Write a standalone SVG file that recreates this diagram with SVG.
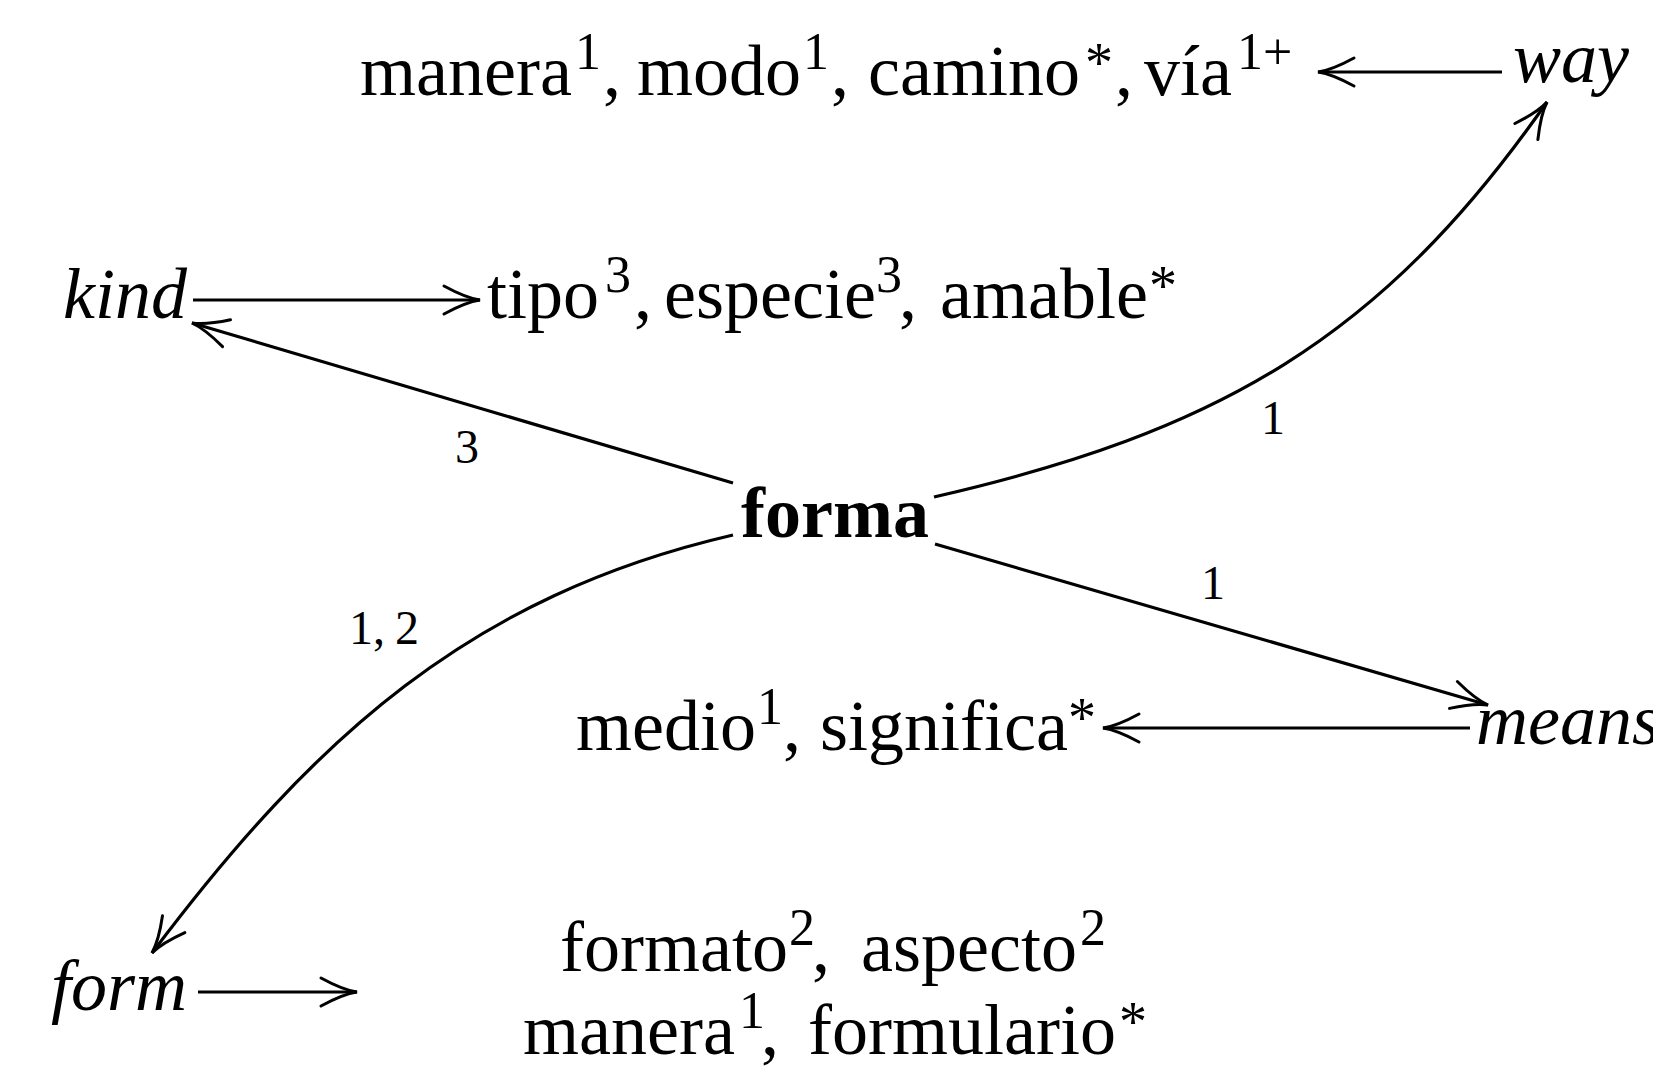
<svg xmlns="http://www.w3.org/2000/svg" width="1653" height="1068" viewBox="0 0 1653 1068">
  <defs>
    <style>
      .t { font-family: "Liberation Serif", "Times New Roman", serif; font-size: 72px; fill: #000; }
      .i { font-style: italic; }
      .b { font-weight: bold; }
      .s { font-size: 52px; }
      .a { font-size: 56px; }
      .lbl { font-family: "Liberation Serif", "Times New Roman", serif; font-size: 48px; fill: #000; text-anchor: middle; }
      .e { fill: none; stroke: #000; stroke-width: 3.2; marker-end: url(#to); }
    </style>
    <!-- open "to"-style arrow tip with curved barbs -->
    <marker id="to" markerUnits="userSpaceOnUse" viewBox="-40 -18 44 36" refX="0" refY="0" markerWidth="44" markerHeight="36" orient="auto" overflow="visible">
      <path d="M-36,-14 Q-14,-2 0,0 Q-14,2 -36,14" fill="none" stroke="#000" stroke-width="3" stroke-linecap="round"/>
    </marker>
  </defs>
  <rect width="1653" height="1068" fill="#fff"/>

  <!-- translations of "way" -->
  <g id="n-way-es">
    <text class="t">
      <tspan x="360" y="95">manera</tspan><tspan class="s" x="575" y="69">1</tspan><tspan x="603" y="95">,</tspan>
      <tspan x="637" y="95">modo</tspan><tspan class="s" x="803" y="69">1</tspan><tspan x="831" y="95">,</tspan>
      <tspan x="868" y="95">camino</tspan><tspan class="a" x="1085" y="82">*</tspan><tspan x="1115" y="95">,</tspan>
      <tspan x="1144" y="95">vía</tspan><tspan class="s" x="1237" y="69">1+</tspan>
    </text>
  </g>
  <g id="n-way"><text class="t i" x="1513" y="82">way</text></g>

  <!-- kind and its translations -->
  <g id="n-kind"><text class="t i" x="63" y="318">kind</text></g>
  <g id="n-kind-es">
    <text class="t">
      <tspan x="487" y="318">tipo</tspan><tspan class="s" x="605" y="292">3</tspan><tspan x="634" y="318">,</tspan>
      <tspan x="664" y="318">especie</tspan><tspan class="s" x="876" y="292">3</tspan><tspan x="899" y="318">,</tspan>
      <tspan x="940" y="318">amable</tspan><tspan class="a" x="1149" y="305">*</tspan>
    </text>
  </g>

  <!-- source word -->
  <g id="n-forma"><text class="t b" x="741" y="537">forma</text></g>

  <!-- means and its translations -->
  <g id="n-means-es">
    <text class="t">
      <tspan x="576" y="750">medio</tspan><tspan class="s" x="757" y="724">1</tspan><tspan x="783" y="750">,</tspan>
      <tspan x="820" y="750">significa</tspan><tspan class="a" x="1068" y="737">*</tspan>
    </text>
  </g>
  <g id="n-means"><text class="t i" x="1476" y="744">means</text></g>

  <!-- form and its translations -->
  <g id="n-form"><text class="t i" x="51" y="1010">form</text></g>
  <g id="n-form-es">
    <text class="t">
      <tspan x="560" y="971">formato</tspan><tspan class="s" x="789" y="945">2</tspan><tspan x="812" y="971">,</tspan>
      <tspan x="861" y="971">aspecto</tspan><tspan class="s" x="1080" y="945">2</tspan>
    </text>
    <text class="t">
      <tspan x="523" y="1054">manera</tspan><tspan class="s" x="739" y="1028">1</tspan><tspan x="761" y="1054">,</tspan>
      <tspan x="808" y="1054">formulario</tspan><tspan class="a" x="1119" y="1041">*</tspan>
    </text>
  </g>

  <!-- connectors -->
  <g id="edges">
    <path class="e" d="M1502,72 L1318,72"/>
    <path class="e" d="M193,300 L480,300"/>
    <path class="e" d="M1470,728 L1103,728"/>
    <path class="e" d="M198,992 L357,992"/>
    <path class="e" d="M733,483 L192,323"/>
    <path class="e" d="M934,497 C1217,432 1381,340 1547,102"/>
    <path class="e" d="M935,544 L1488,705"/>
    <path class="e" d="M733,535 C470,596 314.5,737.4 152,953"/>
  </g>

  <!-- edge labels -->
  <g id="labels">
    <text class="lbl" x="467" y="463">3</text>
    <text class="lbl" x="1273" y="434">1</text>
    <text class="lbl" x="1213" y="599">1</text>
    <text class="lbl" x="384" y="644"><tspan>1,</tspan><tspan dx="10">2</tspan></text>
  </g>
</svg>
